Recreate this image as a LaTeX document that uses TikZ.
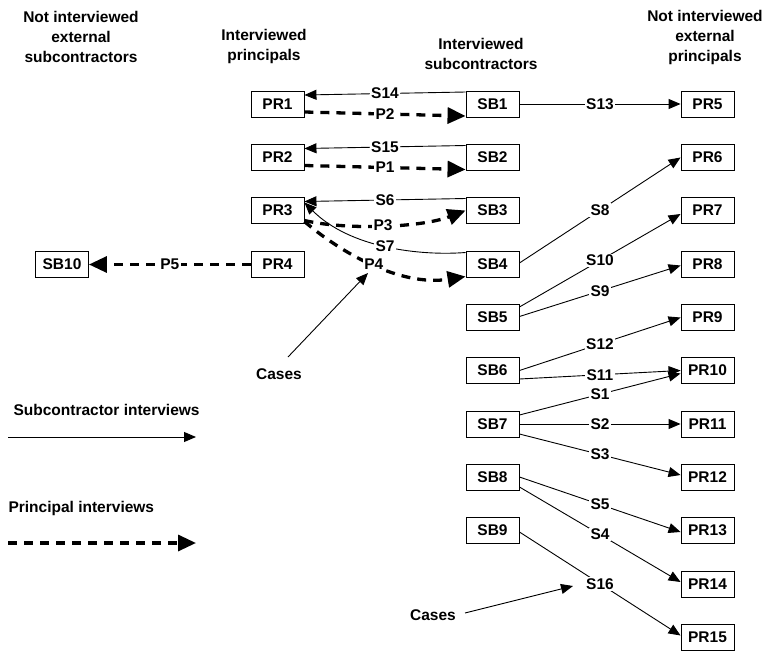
\documentclass[tikz,border=0pt]{standalone}
\usepackage{fontspec}
\setmainfont{Liberation Sans}
\usetikzlibrary{arrows.meta,calc}
\begin{document}
\begin{tikzpicture}[x=1pt,y=-1pt,
 every node/.style={font=\fontsize{15.5}{17}\selectfont\bfseries},
 box/.style={draw, line width=0.9pt, minimum width=53pt, minimum height=26pt, inner sep=0pt, fill=white},
 sarr/.style={line width=0.9pt, -{Triangle[length=12pt,width=10pt]}},
 darr/.style={line width=3.3pt, dash pattern=on 9pt off 7pt, -{Triangle[length=18pt,width=16pt]}},
 lab/.style={fill=white, inner sep=1.5pt},
 head/.style={align=center, font=\fontsize{15.5}{20}\selectfont\bfseries}
]
\useasboundingbox (0,0) rectangle (766,651);

% headers
\node[head] (h1) at (81,37) {Not interviewed\\external\\subcontractors};
\node[head] (h2) at (264,46) {Interviewed\\principals};
\node[head] (h3) at (481,54) {Interviewed\\subcontractors};
\node[head] (h4) at (705,37) {Not interviewed\\external\\principals};

% interviewed principals
\node[box] (PR1) at (277.5,104) {PR1};
\node[box] (PR2) at (277.5,157.5) {PR2};
\node[box] (PR3) at (277.5,210.5) {PR3};
\node[box] (PR4) at (277.5,264.5) {PR4};

% external subcontractor
\node[box] (SB10) at (62,264.5) {SB10};

% interviewed subcontractors
\node[box] (SB1) at (492.5,104) {SB1};
\node[box] (SB2) at (492.5,157.5) {SB2};
\node[box] (SB3) at (492.5,210.5) {SB3};
\node[box] (SB4) at (492.5,264.5) {SB4};
\node[box] (SB5) at (492.5,317.5) {SB5};
\node[box] (SB6) at (492.5,370.5) {SB6};
\node[box] (SB7) at (492.5,424) {SB7};
\node[box] (SB8) at (492.5,477) {SB8};
\node[box] (SB9) at (492.5,530) {SB9};

% external principals
\node[box] (PR5) at (707.5,104) {PR5};
\node[box] (PR6) at (707.5,157.5) {PR6};
\node[box] (PR7) at (707.5,210.5) {PR7};
\node[box] (PR8) at (707.5,264.5) {PR8};
\node[box] (PR9) at (707.5,317.5) {PR9};
\node[box] (PR10) at (707.5,370.5) {PR10};
\node[box] (PR11) at (707.5,424) {PR11};
\node[box] (PR12) at (707.5,477) {PR12};
\node[box] (PR13) at (707.5,530) {PR13};
\node[box] (PR14) at (707.5,584) {PR14};
\node[box] (PR15) at (707.5,637.5) {PR15};

% left connectors
\draw[sarr] ($(SB1.west)+(0,-12)$) -- node[lab]{S14} ($(PR1.east)+(0,-9)$);
\draw[darr] ($(PR1.east)+(0,8)$) -- node[lab]{P2} ($(SB1.west)+(0,12)$);
\draw[sarr] ($(SB2.west)+(0,-12)$) -- node[lab]{S15} ($(PR2.east)+(0,-9)$);
\draw[darr] ($(PR2.east)+(0,8)$) -- node[lab]{P1} ($(SB2.west)+(0,12)$);
\draw[sarr] ($(SB3.west)+(0,-12)$) -- node[lab]{S6} ($(PR3.east)+(0,-9)$);
\draw[darr] ($(PR3.east)+(0,10)$) .. controls (345,230) and (420,228) .. node[lab]{P3} (SB3.west);
\draw[sarr] ($(SB4.west)+(0,-12)$) .. controls (420,256) and (350,248) .. node[lab]{S7} ($(PR3.east)+(0,-8)$);
\draw[darr] ($(PR3.east)+(0,11)$) .. controls (340,252) and (400,287) .. node[lab]{P4} ($(SB4.west)+(0,12)$);
\draw[darr] (PR4.west) -- node[lab]{P5} (SB10.east);

% cases 1
\node (cases1) at (279,374) {Cases};
\coordinate (c1tip) at (368,273);
\draw[sarr] ($(cases1)+(9,-17)$) -- (c1tip);

% right connectors
\draw[sarr] (SB1.east) -- node[lab]{S13} (PR5.west);
\draw[sarr] ($(SB4.east)+(0,-1.5)$) -- node[lab]{S8} (PR6.west);
\draw[sarr] ($(SB5.east)+(0,-10.5)$) -- node[lab]{S10} ($(PR7.west)+(0,3.5)$);
\draw[sarr] ($(SB5.east)+(0,-1)$) -- node[lab]{S9} ($(PR8.west)+(0,1)$);
\draw[sarr] (SB6.east) -- node[lab]{S12} (PR9.west);
\draw[sarr] ($(SB6.east)+(0,8.5)$) -- node[lab]{S11} (PR10.west);
\draw[sarr] ($(SB7.east)+(0,-9)$) -- node[lab]{S1} ($(PR10.west)+(0,3)$);
\draw[sarr] (SB7.east) -- node[lab]{S2} (PR11.west);
\draw[sarr] ($(SB7.east)+(0,10)$) -- node[lab]{S3} ($(PR12.west)+(0,-2)$);
\draw[sarr] (SB8.east) -- node[lab]{S5} ($(PR13.west)+(0,2)$);
\draw[sarr] ($(SB8.east)+(0,10)$) -- node[lab]{S4} ($(PR14.west)+(0,-2)$);
\draw[sarr] ($(SB9.east)+(0,2)$) -- node[lab]{S16} ($(PR15.west)+(0,-2)$);

% cases 2
\node (cases2) at (433,615) {Cases};
\coordinate (c2tip) at (573,586);
\draw[sarr] ($(cases2)+(32,-2)$) -- (c2tip);

% legend
\node[anchor=west] (l1) at (10,410) {Subcontractor interviews};
\coordinate (l1a) at (8,437);
\coordinate (l1b) at (196,437);
\draw[sarr] (l1a) -- (l1b);
\node[anchor=west] (l2) at (5,508) {Principal interviews};
\coordinate (l2a) at (8,543);
\coordinate (l2b) at (196,543);
\draw[darr] (l2a) -- (l2b);
\end{tikzpicture}
\end{document}
